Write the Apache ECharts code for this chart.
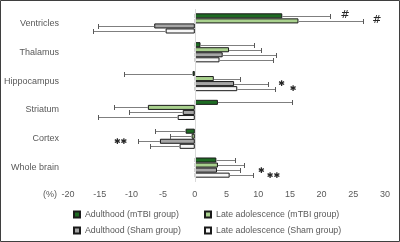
<!DOCTYPE html>
<html><head><meta charset="utf-8">
<script src="https://cdn.jsdelivr.net/npm/echarts@6/dist/echarts.min.js"></script>
<style>html,body{margin:0;padding:0;background:#fff}#c{width:400px;height:242px}</style>
</head><body><div id="c"></div>
<script>
const categories = ['Ventricles', 'Thalamus', 'Hippocampus', 'Striatum', 'Cortex', 'Whole brain'];
const seriesNames = ['Adulthood (mTBI group)', 'Late adolescence (mTBI group)', 'Adulthood (Sham group)', 'Late adolescence (Sham group)'];
const adultMtbi = [13.8, 0.9, -0.35, 3.65, -1.45, 3.4];
const adultMtbiErr = [7.5, 8.4, 10.85, 11.65, 4.75, 3.0];
const lateMtbi = [16.35, 5.4, 3.0, -7.4, -0.5, 3.65];
const lateMtbiErr = [10.15, 5.0, 4.2, 5.3, 3.4, 4.05];
const adultSham = [-6.4, 4.4, 6.2, -1.9, -5.5, 3.5];
const adultShamErr = [8.9, 8.4, 5.4, 8.4, 3.4, 3.7];
const lateSham = [-4.6, 3.9, 6.7, -2.7, -2.4, 5.5];
const lateShamErr = [11.5, 8.5, 6.0, 12.5, 4.7, 3.7];
const xMin = -20, xMax = 30, xStep = 5;
// [text, value position, category index, bar index]
const annotations = [['#', 23.7, 0, 0], ['#', 28.7, 0, 1], ['*', 13.7, 2, 2], ['*', 15.5, 2, 3], ['**', -11.7, 4, 2], ['*', 10.5, 5, 2], ['**', 12.4, 5, 3]];

const values = [adultMtbi, lateMtbi, adultSham, lateSham];
const errors = [adultMtbiErr, lateMtbiErr, adultShamErr, lateShamErr];
const colors = ['#1e6b23', '#a9d18e', '#a6a6a6', '#f7f7f7'];
const GAP = 0.3;
const ORDER = 1;
const FONT = '"Liberation Sans", Arial, sans-serif';
const TXT = '#595959';

function barOffset(band, si) {
  const bw = band * (1 - GAP) / 4;
  return ORDER * (-band * (1 - GAP) / 2 + (si + 0.5) * bw);
}

const errData = [];
values.forEach((arr, si) => arr.forEach((v, ci) => errData.push([v, ci, si, errors[si][ci]])));

const series = values.map((arr, si) => ({
  name: seriesNames[si], type: 'bar', data: arr, z: 2,
  barGap: '0%', barCategoryGap: (GAP * 100) + '%',
  itemStyle: { color: colors[si], borderColor: '#1a1a1a', borderWidth: 1 },
  emphasis: { disabled: true }
}));
series.push({
  type: 'custom', z: 3, silent: true, data: errData, encode: { x: 0, y: 1 },
  renderItem(params, api) {
    const v = api.value(0), cat = api.value(1), si = api.value(2), err = api.value(3);
    const end = v >= 0 ? v + err : v - err;
    const p0 = api.coord([v, cat]), p1 = api.coord([end, cat]);
    const band = api.size([0, 1])[1];
    const y = Math.round(p0[1] + barOffset(band, si)) + 0.5;
    const x1 = Math.round(p1[0]) + 0.5;
    return { type: 'group', children: [
      { type: 'line', shape: { x1: p0[0], y1: y, x2: x1, y2: y }, style: { stroke: '#7f7f7f', lineWidth: 1 } },
      { type: 'line', shape: { x1: x1, y1: y - 2.5, x2: x1, y2: y + 2.5 }, style: { stroke: '#595959', lineWidth: 1 } }
    ]};
  }
});
series.push({
  type: 'custom', z: 4, silent: true, data: annotations.map(a => [a[1], a[2], a[3], a[0]]),
  encode: { x: 0, y: 1 },
  renderItem(params, api) {
    const p = api.coord([api.value(0), api.value(1)]);
    const band = api.size([0, 1])[1];
    const txt = annotations[params.dataIndex][0];
    const star = txt.indexOf('*') >= 0;
    return { type: 'text', x: p[0], y: p[1] + barOffset(band, api.value(2)) + (star ? 0.5 : -1),
      style: { text: star ? txt.replace(/\*/g, '\u2731') : txt, fill: '#262626', font: (star ? '8px' : '11px') + ' "DejaVu Sans", sans-serif', align: 'center', verticalAlign: 'middle' } };
  }
});
series.push({
  type: 'line', data: [], z: 1, silent: true,
  markLine: { silent: true, symbol: 'none', label: { show: false }, lineStyle: { color: '#d9d9d9', type: 'solid', width: 1 }, data: [{ xAxis: 0 }], animation: false }
});

function legendAt(i, left, top) {
  return { data: [seriesNames[i]], left: left, top: top, icon: 'rect', itemWidth: 6, itemHeight: 6, selectedMode: false,
    textStyle: { color: TXT, fontSize: 8.8, fontFamily: FONT } };
}

const chart = echarts.init(document.getElementById('c'), null, { renderer: 'canvas' });
chart.setOption({
  animation: false,
  backgroundColor: '#fff',
  grid: { left: 68, right: 15, top: 9, bottom: 60, containLabel: false, outerBoundsMode: 'none' },
  xAxis: { type: 'value', min: xMin, max: xMax, interval: xStep,
    axisLine: { show: false }, axisTick: { show: false }, splitLine: { show: false },
    axisLabel: { color: TXT, fontSize: 9, fontFamily: FONT, margin: 8 } },
  yAxis: { type: 'category', data: categories, inverse: true,
    axisLine: { show: false }, axisTick: { show: false },
    axisLabel: { color: TXT, fontSize: 9, fontFamily: FONT, margin: 9 } },
  legend: [legendAt(0, 68, 205), legendAt(1, 199, 205), legendAt(2, 68, 221), legendAt(3, 199, 221)],
  graphic: [
    { type: 'rect', shape: { x: 0.5, y: 0.5, width: 399, height: 241 }, style: { fill: 'none', stroke: '#3f3f3f', lineWidth: 1 }, z: 10 },
    { type: 'text', x: 50, y: 194.5, style: { text: '(%)', fill: TXT, font: '9px ' + FONT, align: 'center', verticalAlign: 'middle' } }
  ],
  series: series
});
</script></body></html>
